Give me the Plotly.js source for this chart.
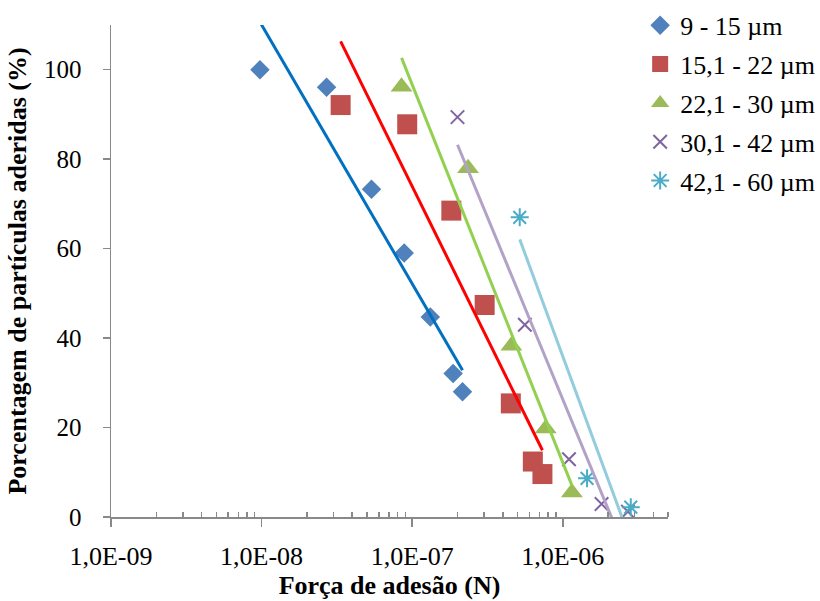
<!DOCTYPE html>
<html>
<head>
<meta charset="utf-8">
<script src="https://cdn.plot.ly/plotly-3.0.1.min.js"></script>
<style>html,body{margin:0;padding:0;background:#fff;}#chart{width:820px;height:601px;}</style>
</head>
<body>
<div id="chart"></div>
<script>
// ---- data ----
const seriesNames = ['9 - 15 µm', '15,1 - 22 µm', '22,1 - 30 µm', '30,1 - 42 µm', '42,1 - 60 µm'];

const force1 = [9.75e-9, 2.70e-8, 5.37e-8, 8.85e-8, 1.32e-7, 1.87e-7, 2.16e-7];
const pct1   = [100, 96.1, 73.3, 59.0, 44.7, 32.1, 28.0];

const force2 = [3.35e-8, 9.27e-8, 1.82e-7, 3.03e-7, 4.52e-7, 6.33e-7, 7.33e-7];
const pct2   = [92.1, 87.8, 68.5, 47.4, 25.4, 12.4, 9.6];

const force3 = [8.5e-8, 2.35e-7, 4.56e-7, 7.71e-7, 1.15e-6];
const pct3   = [96.2, 78.0, 38.3, 19.8, 5.5];

const force4 = [2.0e-7, 5.6e-7, 1.10e-6, 1.81e-6, 2.71e-6];
const pct4   = [89.4, 43.0, 12.9, 2.9, 1.2];

const force5 = [5.18e-7, 1.45e-6, 2.83e-6];
const pct5   = [67.0, 8.65, 2.2];

const xTickVals = [1e-9, 1e-8, 1e-7, 1e-6];
const xTickText = ['1,0E-09', '1,0E-08', '1,0E-07', '1,0E-06'];

// ---- styles ----
const markerColors = ['#4F81BD', '#C0504D', '#9BBB59', '#8064A2', '#4BACC6'];
const trendColors  = ['#0070C0', '#FF0000', '#92D050', '#B3A2C7', '#93CDDD'];
const symbols = ['diamond', 'square', 'triangle-up', 'x-thin-open', 'asterisk-open'];
const sizes = [15, 20, 19, 13.5, 15];

const xs = [force1, force2, force3, force4, force5];
const ys = [pct1, pct2, pct3, pct4, pct5];

// logarithmic trendline (least squares y = a*log10(x) + b), drawn over the data range
function logFit(x, y) {
  const lx = x.map(v => Math.log10(v));
  const n = lx.length;
  const mx = lx.reduce((a, b) => a + b, 0) / n;
  const my = y.reduce((a, b) => a + b, 0) / n;
  let sxy = 0, sxx = 0;
  for (let i = 0; i < n; i++) { sxy += (lx[i] - mx) * (y[i] - my); sxx += (lx[i] - mx) ** 2; }
  const a = sxy / sxx, b = my - a * mx;
  const x0 = Math.min(...x), x1 = Math.max(...x);
  return { x: [x0, x1], y: [a * Math.log10(x0) + b, a * Math.log10(x1) + b] };
}

const traces = [];
for (let i = 0; i < 5; i++) {
  const isLine = symbols[i].indexOf('open') >= 0;
  traces.push({
    type: 'scatter', mode: 'markers', name: seriesNames[i], legendgroup: 'g' + i,
    x: xs[i], y: ys[i],
    marker: isLine
      ? { symbol: symbols[i], size: sizes[i], color: markerColors[i], line: { color: markerColors[i], width: 2 } }
      : { symbol: symbols[i], size: sizes[i], color: markerColors[i], line: { width: 0 } }
  });
}
for (let i = 0; i < 5; i++) {
  const f = logFit(xs[i], ys[i]);
  traces.push({
    type: 'scatter', mode: 'lines', x: f.x, y: f.y, showlegend: false, legendgroup: 'g' + i,
    hoverinfo: 'skip', line: { color: trendColors[i], width: 3 }
  });
}

// minor tick positions (2..9 of each decade)
const minorVals = [];
for (let e = -9; e <= -6; e++) for (let d = 2; d <= 9; d++) { const v = d * Math.pow(10, e); if (v <= 5e-6) minorVals.push(v); }

const axisColor = '#898989';
const fontFam = 'Liberation Serif, Times New Roman, serif';

const layout = {
  width: 820, height: 601,
  paper_bgcolor: '#fff', plot_bgcolor: '#fff',
  margin: { l: 111, r: 152, t: 25, b: 84, autoexpand: false },
  font: { family: fontFam, size: 25, color: '#000' },
  showlegend: true,
  legend: {
    x: 0.95, xanchor: 'left', y: 1.047, yanchor: 'top',
    font: { family: fontFam, size: 26, color: '#000' },
    tracegroupgap: 2, traceorder: 'grouped', bgcolor: 'rgba(0,0,0,0)'
  },
  xaxis: {
    type: 'log', range: [-9, Math.log10(5e-6)],
    tickmode: 'array', tickvals: xTickVals, ticktext: xTickText,
    ticks: 'outside', ticklen: 8, tickwidth: 1.5, tickcolor: axisColor,
    showline: true, linecolor: axisColor, linewidth: 1.5,
    showgrid: false, zeroline: false,
    ticklabelstandoff: 7,
    tickfont: { family: fontFam, size: 26, color: '#000' },
    minor: { tickmode: 'array', tickvals: minorVals, ticks: 'inside', ticklen: 5, tickwidth: 1.5, tickcolor: axisColor, showgrid: false },
    title: { text: '<b>Força de adesão (N)</b>', font: { family: fontFam, size: 26, color: '#000' }, standoff: 5 },
    automargin: false
  },
  yaxis: {
    range: [0, 110], dtick: 20, tick0: 0,
    ticks: 'outside', ticklen: 7, tickwidth: 1.5, tickcolor: axisColor,
    showline: true, linecolor: axisColor, linewidth: 1.5,
    showgrid: false, zeroline: false,
    ticklabelstandoff: 16,
    tickfont: { family: fontFam, size: 25, color: '#000' },
    title: { text: '<b>Porcentagem de partículas aderidas (%)</b>', font: { family: fontFam, size: 26, color: '#000' }, standoff: 10 },
    automargin: false
  }
};

Plotly.newPlot('chart', traces, layout, { displayModeBar: false, staticPlot: true });
</script>
</body>
</html>
